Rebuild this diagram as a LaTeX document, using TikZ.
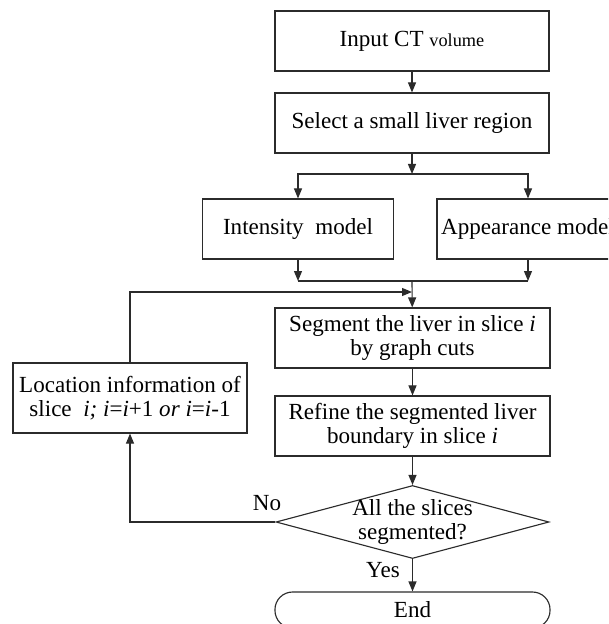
\documentclass[tikz,border=0pt]{standalone}
\usepackage{fontspec}
\setmainfont{Liberation Serif}
\usetikzlibrary{arrows.meta,shapes.geometric}
\definecolor{Line}{HTML}{2B2B2B}

\begin{document}
\begin{tikzpicture}[
  x=0.025cm,y=-0.025cm,
  font=\fontsize{16.4}{17}\selectfont,
  block/.style={draw=Line,line width=0.8pt,align=center,inner sep=0pt,minimum height=1.5cm},
  decision/.style={diamond,draw=Line,line width=0.8pt,align=center,aspect=3.74,inner sep=-2pt,minimum width=6.825cm,minimum height=1.825cm},
  terminal/.style={draw=Line,line width=0.8pt,rounded corners=0.44cm,minimum width=6.875cm,minimum height=0.9cm,inner sep=0pt},
  flow/.style={draw=Line,line width=0.8pt,-{Triangle[length=0.25cm,width=0.2cm]}},
  link/.style={draw=Line,line width=0.8pt}
]
\clip (0,0) rectangle (608,624);
\node[block,minimum width=6.85cm] (input) at (412,41) {Input CT {\fontsize{13}{15}\selectfont volume}};
\node[block,minimum width=6.85cm] (select) at (412,123) {Select a small liver region};
\node[block,minimum width=4.775cm] (intensity) at (298,229) {Intensity\ \ model};
\node[block,minimum width=4.55cm] (appear) at (528,229) {Appearance model};
\node[block,minimum width=6.875cm] (segment) at (412.5,338) {Segment the liver in slice \textit{i}\\by graph cuts};
\node[block,minimum width=6.875cm] (refine) at (412.5,426) {Refine the segmented liver\\boundary in slice \textit{i}};
\node[decision] (check) at (412.5,522) {All the slices\\segmented?};
\node[block,minimum width=5.85cm,minimum height=1.75cm] (location) at (130,398) {Location information of\\slice\ \ \textit{i; i}=\textit{i}+1 \textit{or i}=\textit{i}-1};
\node[terminal] (stop) at (412.5,610) {End};
\node (no) at (267,503) {No};
\node (yes) at (383,570) {Yes};
\coordinate (split) at (412,174);
\coordinate (merge) at (412,281);
\coordinate (mergeL) at (298,281);
\coordinate (mergeR) at (528,281);
\coordinate (back) at (412,292);
\coordinate (loopup) at (130,292);
\coordinate (loopdown) at (130,522);
\draw[flow] (input) -- (select);
\draw[flow] (select) -- (split);
\draw[flow] (split) -| (intensity);
\draw[flow] (split) -| (appear);
\draw[flow] (intensity) -- (mergeL);
\draw[flow] (appear) -- (mergeR);
\draw[link] (mergeL) -- (mergeR);
\draw[flow] (merge) -- (segment);
\draw[flow] (location) -- (loopup) -- (back);
\draw[flow] (segment) -- (refine);
\draw[flow] (refine) -- (check);
\draw[flow] (check) -- (loopdown) -- (location);
\draw[flow] (check) -- (stop);
\end{tikzpicture}
\end{document}
